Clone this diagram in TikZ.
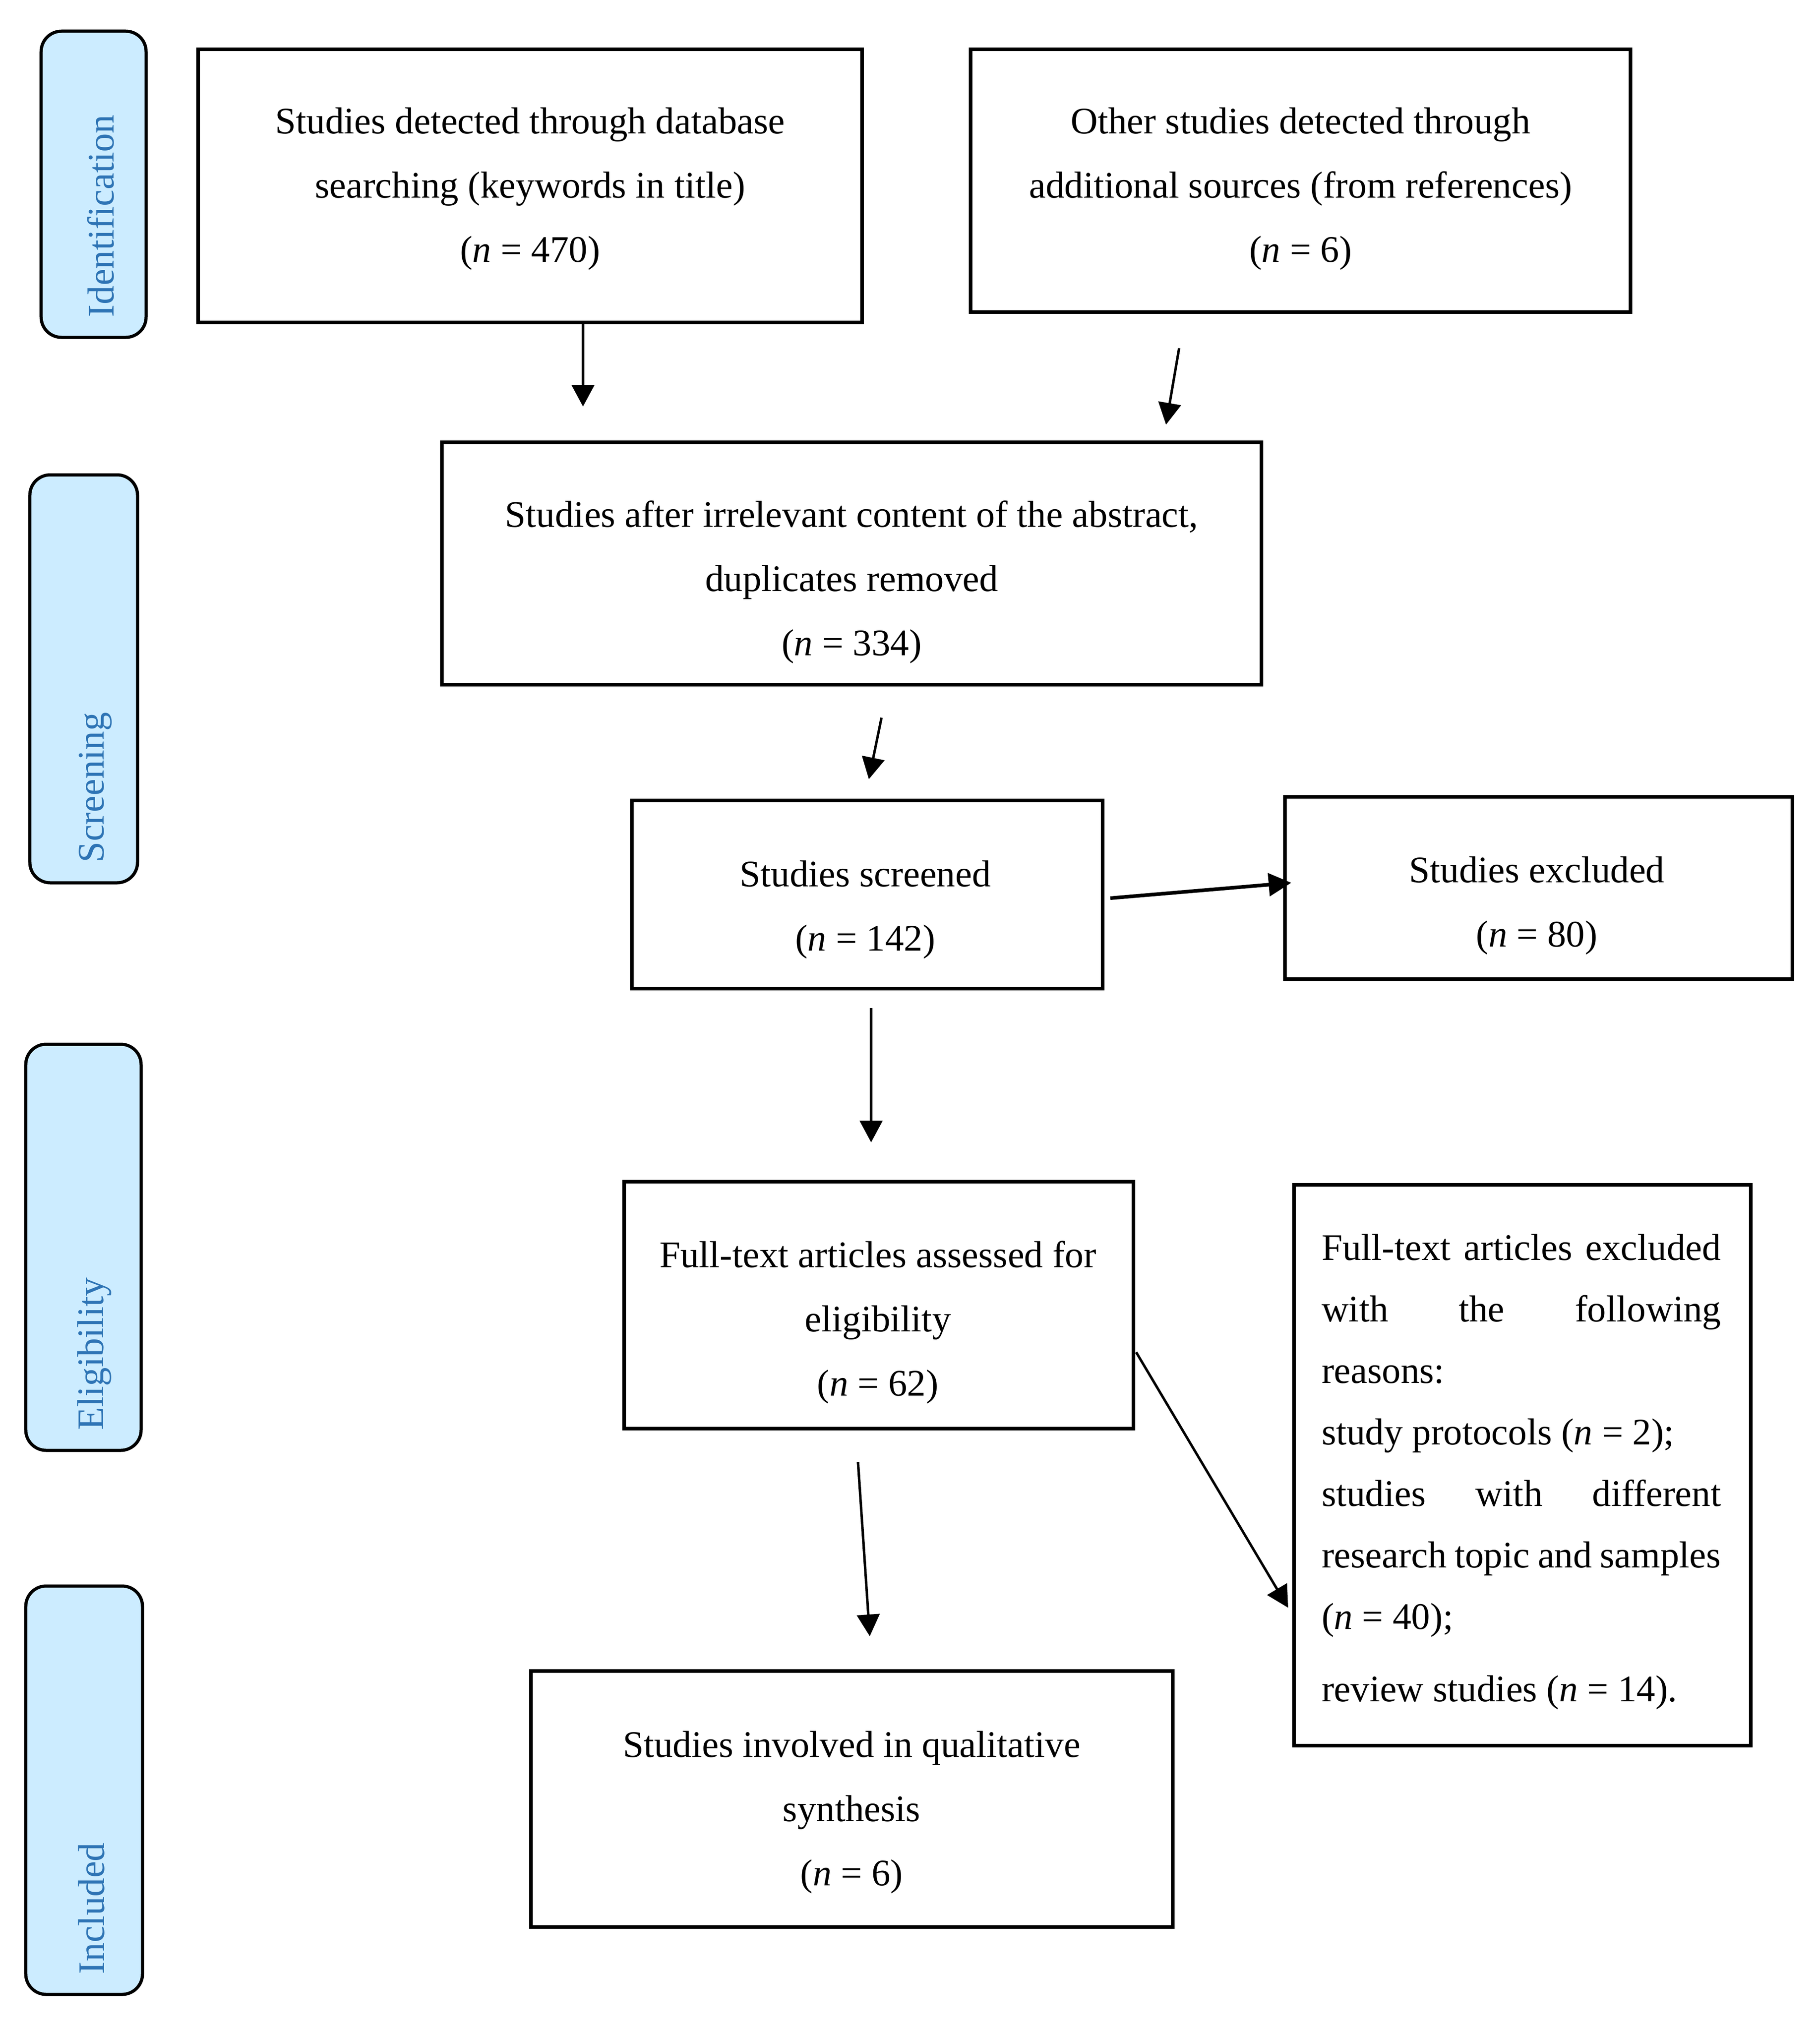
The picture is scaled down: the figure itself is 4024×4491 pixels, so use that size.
\documentclass[tikz,border=0pt]{standalone}
\IfFileExists{pplr8t.tfm}{%
  \usepackage[T1]{fontenc}\renewcommand{\rmdefault}{ppl}%
  \newcommand{\fsz}{14.9}}{%
  \usepackage{fontspec}\setmainfont{Liberation Serif}%
  \newcommand{\fsz}{16.6}}
\usetikzlibrary{arrows.meta}
\definecolor{tabfill}{RGB}{204,236,255}
\definecolor{tabtext}{RGB}{46,116,181}
\newcommand{\jline}[1]{\noindent\hbox to 176.6pt{#1}}
\begin{document}
\begin{tikzpicture}[x=0.2pt,y=-0.2pt,
  box/.style={draw,line width=1.5pt,inner sep=0pt,outer sep=0pt},
  tab/.style={draw,line width=1.4pt,fill=tabfill,rounded corners=9pt,inner sep=0pt},
  tablabel/.style={rotate=90,anchor=base west,inner sep=0pt,text=tabtext,font=\fontsize{\fsz}{18}\selectfont},
  txt/.style={align=center,inner sep=0pt,font=\fontsize{\fsz}{28.4}\selectfont},
  arr/.style={line width=1.1pt,-{Triangle[length=9.6pt,width=10pt]}},
  arrthick/.style={line width=1.6pt,-{Triangle[length=10pt,width=10pt]}}]
\useasboundingbox (0,0) rectangle (4024,4491);
% phase tabs
\node[tab,minimum width=46.4pt,minimum height=135.4pt] (tab1) at (207,407.5) {};
\node[tablabel] (lab1) at (251,702) {Identification};
\node[tab,minimum width=47.6pt,minimum height=180.4pt] (tab2) at (185,1501) {};
\node[tablabel] (lab2) at (229,1908) {Screening};
\node[tab,minimum width=51pt,minimum height=179.6pt] (tab3) at (184.5,2758) {};
\node[tablabel] (lab3) at (228,3163) {Eligibility};
\node[tab,minimum width=51.6pt,minimum height=180.6pt] (tab4) at (186,3958.5) {};
\node[tablabel] (lab4) at (230,4366) {Included};
% boxes
\node[box,minimum width=293.6pt,minimum height=120.8pt] (b1) at (1172,411) {};
\node[txt] (t1) at (1172,418) {Studies detected through database\\searching (keywords in title)\\(\textit{n} = 470)};
\node[box,minimum width=291.8pt,minimum height=116.2pt] (b2) at (2875.5,399.5) {};
\node[txt] (t2) at (2875.5,418) {Other studies detected through\\additional sources (from references)\\(\textit{n} = 6)};
\node[box,minimum width=362.4pt,minimum height=107.2pt] (b3) at (1883,1246) {};
\node[txt] (t3) at (1883,1287) {Studies after irrelevant content of the abstract,\\duplicates removed\\(\textit{n} = 334)};
\node[box,minimum width=208.2pt,minimum height=83.2pt] (b4) at (1917.5,1978) {};
\node[txt] (t4) at (1913,2012) {Studies screened\\(\textit{n} = 142)};
\node[box,minimum width=224.4pt,minimum height=80.6pt] (b5) at (3402,1963.5) {};
\node[txt] (t5) at (3398,2003) {Studies excluded\\(\textit{n} = 80)};
\node[box,minimum width=225.2pt,minimum height=109.2pt] (b6) at (1943,2886) {};
\node[txt] (t6) at (1941,2924) {Full-text articles assessed for\\eligibility\\(\textit{n} = 62)};
\node[box,minimum width=202pt,minimum height=248pt] (b7) at (3366,3240) {};
\node[anchor=north west,inner sep=0pt,text width=176.6pt,align=flush left,font=\fontsize{\fsz}{27.2}\selectfont] (t7) at (2921,2728) {%
\jline{Full-text\hfill articles\hfill excluded}\\
\jline{with\hfill the\hfill following}\\
reasons:\\
study protocols (\textit{n} = 2);\\
\jline{studies\hfill with\hfill different}\\
\jline{research\hfill topic\hfill and\hfill samples}\\
(\textit{n} = 40);\\[4.8pt]
review studies (\textit{n} = 14).};
\node[box,minimum width=283.8pt,minimum height=113.2pt] (b8) at (1883.5,3978) {};
\node[txt] (t8) at (1883,4007) {Studies involved in qualitative\\synthesis\\(\textit{n} = 6)};
% arrow end points
\coordinate (a1s) at (1289,715);  \coordinate (a1e) at (1289,899);
\coordinate (a2s) at (2607,770);  \coordinate (a2e) at (2578,939);
\coordinate (a3s) at (1949,1587); \coordinate (a3e) at (1921,1723);
\coordinate (a4s) at (2455,1986); \coordinate (a4e) at (2855,1952);
\coordinate (a5s) at (1926,2229); \coordinate (a5e) at (1926,2526);
\coordinate (a6s) at (2512,2990); \coordinate (a6e) at (2848,3555);
\coordinate (a7s) at (1897,3233); \coordinate (a7e) at (1923,3618);
\draw[arr] (a1s) -- (a1e);
\draw[arr] (a2s) -- (a2e);
\draw[arr] (a3s) -- (a3e);
\draw[arrthick] (a4s) -- (a4e);
\draw[arr] (a5s) -- (a5e);
\draw[arr] (a6s) -- (a6e);
\draw[arr] (a7s) -- (a7e);
\end{tikzpicture}
\end{document}
